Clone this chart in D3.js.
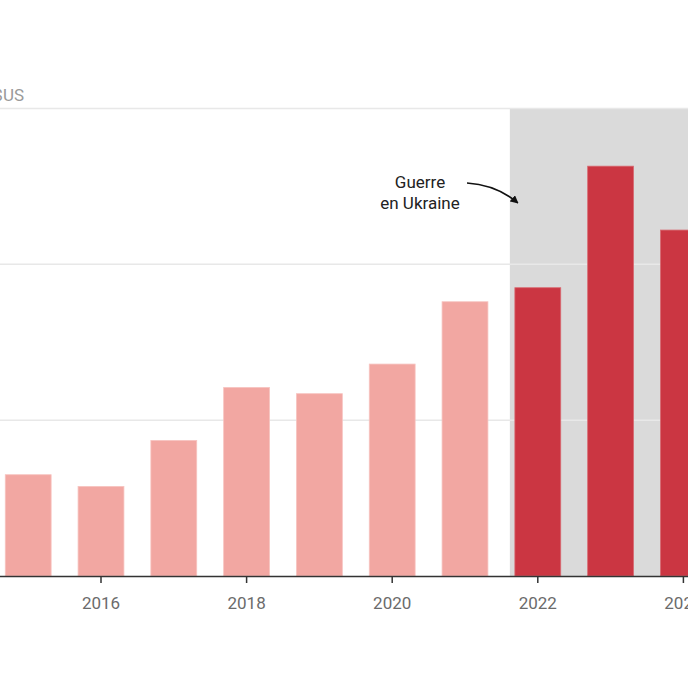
<!DOCTYPE html>
<html><head><meta charset="utf-8">
<script src="https://cdn.jsdelivr.net/npm/d3@7"></script>
<style>html,body{margin:0;padding:0;background:#fff;overflow:hidden}svg{display:block}</style>
</head><body>
<svg id="c" width="688" height="688"></svg>
<script>
const years = [2015,2016,2017,2018,2019,2020,2021,2022,2023,2024];
const values = [6.5,5.75,8.7,12.1,11.7,13.6,17.6,18.5,26.3,22.2];
const warYears = [2022,2023,2024];
const gridTicks = [10,20,30];
const xTickYears = [2016,2018,2020,2022,2024];
const unitLabel = "Milliards $US";
const annotationLines = ["Guerre","en Ukraine"];

const svg = d3.select("#c");
const W = 688;
const x = d3.scaleBand().domain(years).range([-8.2, 719.8]).paddingInner(0.37).paddingOuter(0.185);
const y = d3.scaleLinear().domain([0,30]).range([576,108.5]);

// shaded war region
svg.append("rect")
  .attr("x", x(2022)-5).attr("y", y(30))
  .attr("width", W - (x(2022)-5) + 10).attr("height", y(0)-y(30))
  .attr("fill","#dadada");

// gridlines
svg.append("g").selectAll("line").data(gridTicks).join("line")
  .attr("x1",-10).attr("x2",W+10)
  .attr("y1",d=>y(d)).attr("y2",d=>y(d))
  .attr("stroke","#e8e8e8").attr("stroke-width",1.5);

// unit label
svg.append("text").attr("x",24).attr("y",101).attr("text-anchor","end")
  .attr("font-family","Roboto, sans-serif").attr("font-size",17).attr("fill","#9a9a9a")
  .text(unitLabel);

// bars
svg.append("g").selectAll("rect").data(years).join("rect")
  .attr("x",d=>x(d)).attr("width",x.bandwidth())
  .attr("y",(d,i)=>y(values[i])).attr("height",(d,i)=>y(0)-y(values[i]))
  .attr("fill",d=>warYears.includes(d)?"#cb3642":"#f2a7a2")
  .attr("stroke",d=>warYears.includes(d)?"#d86a72":"#f7c4c0").attr("stroke-width",0.8);

// x axis
const ax = svg.append("g").attr("transform",`translate(0,${y(0)})`)
  .call(d3.axisBottom(x).tickValues(xTickYears).tickSize(7).tickSizeOuter(0).tickPadding(14));
ax.select(".domain").attr("d",`M-10,0.5H${W+10}`).attr("stroke","#333").attr("stroke-width",1.5);
ax.selectAll(".tick line").attr("stroke","#333").attr("stroke-width",1.5);
ax.selectAll(".tick text").attr("font-family","Roboto, sans-serif").attr("font-size",17).attr("fill","#6b6b6b");

// annotation
const ann = svg.append("text").attr("text-anchor","middle")
  .attr("font-family","Roboto, sans-serif").attr("font-size",17).attr("fill","#222");
annotationLines.forEach((t,i)=>ann.append("tspan").attr("x",420).attr("y",188+i*21).text(t));

svg.append("defs").append("marker").attr("id","ah").attr("viewBox","0 0 10 10")
  .attr("refX",9).attr("refY",5).attr("markerWidth",8).attr("markerHeight",8)
  .attr("orient","auto").attr("markerUnits","userSpaceOnUse")
  .append("path").attr("d","M0,0L10,5L0,10z").attr("fill","#111");
svg.append("path")
  .attr("d",`M467,183 Q497,185 ${x(2022)+3},203`)
  .attr("fill","none").attr("stroke","#111").attr("stroke-width",1.6)
  .attr("marker-end","url(#ah)");
</script>
</body></html>
